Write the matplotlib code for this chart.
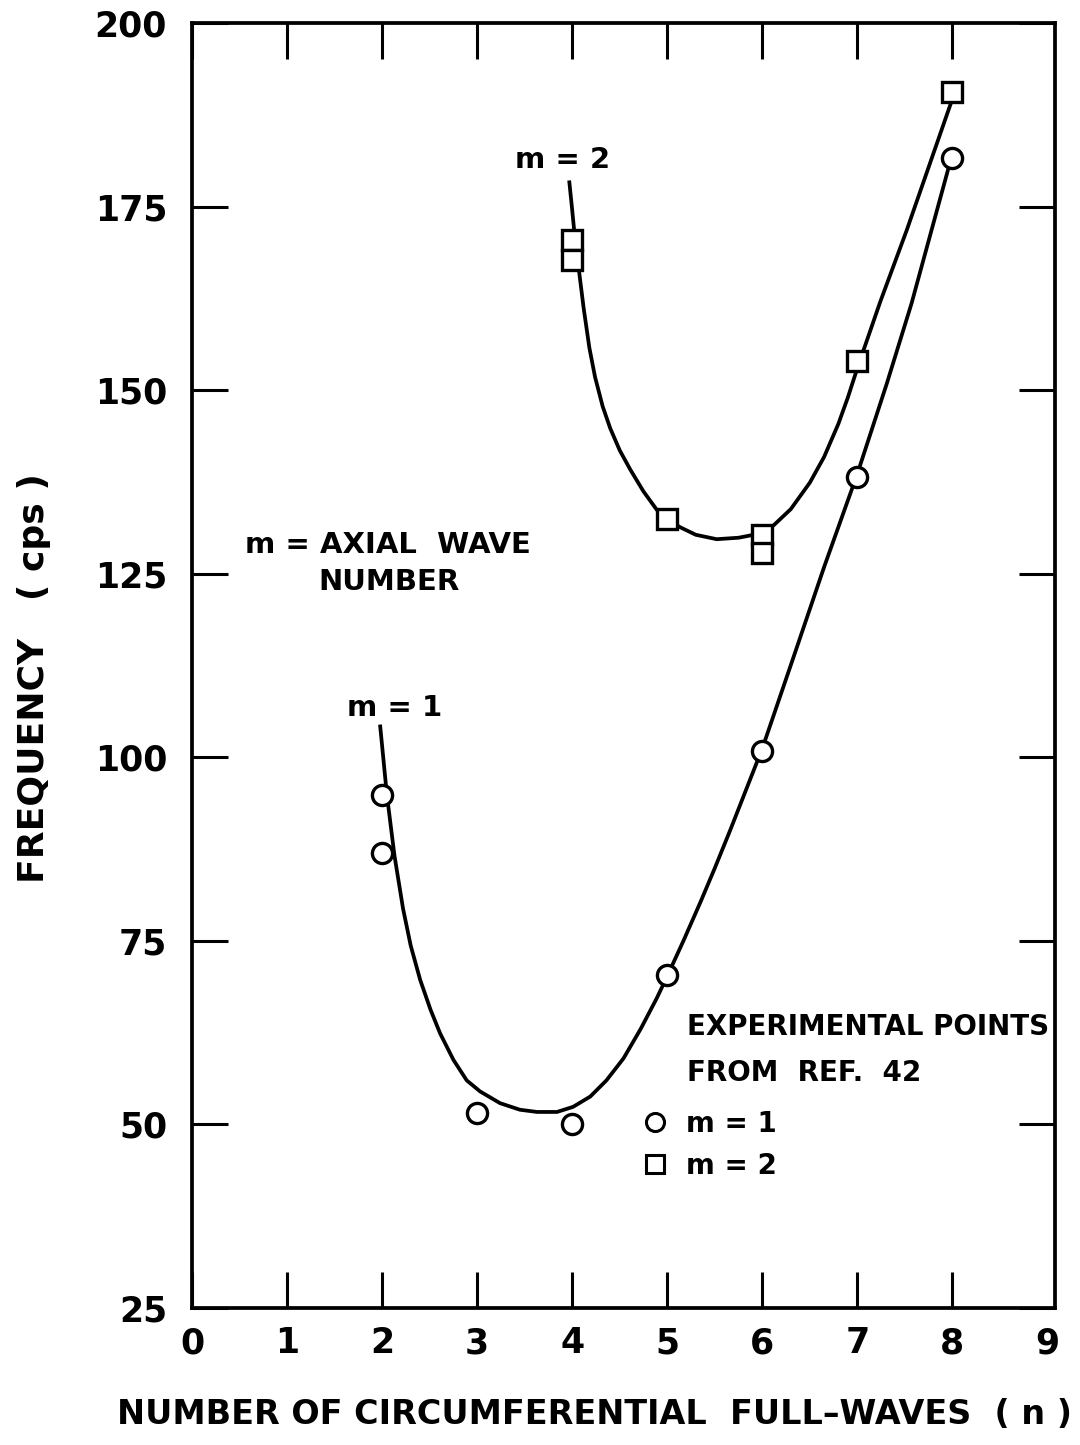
import matplotlib
matplotlib.use('Agg')
import matplotlib.pyplot as plt
from matplotlib.lines import Line2D

plt.rcParams['font.family'] = ['DejaVu Sans']
plt.rcParams['font.weight'] = 'bold'

# experimental points (n, frequency in cps)
n_m1 = [2, 2, 3, 4, 5, 6, 7, 8]
f_m1 = [94.9, 86.9, 51.5, 50.0, 70.4, 100.9, 138.2, 181.6]
n_m2 = [4, 4, 5, 6, 6, 7, 8]
f_m2 = [170.4, 167.7, 132.4, 130.3, 127.8, 154.0, 190.6]

# theory curves
curve_n_m1 = [1.98, 2.05, 2.13, 2.22, 2.30, 2.40, 2.51, 2.61, 2.75, 2.89,
              3.03, 3.24, 3.45, 3.63, 3.84, 4.01, 4.19, 4.36, 4.54, 4.72, 4.89,
              5.00, 5.17, 5.35, 5.50, 5.66, 5.83, 6.00, 6.33, 6.65, 7.00, 7.31, 7.57, 7.96]
curve_f_m1 = [104.2, 94.9, 86.6, 79.4, 74.4, 69.7, 65.6, 62.4, 58.8, 56.0,
              54.5, 52.9, 52.0, 51.7, 51.7, 52.4, 53.8, 56.0, 59.0, 63.0, 67.2,
              70.2, 75.0, 80.3, 84.9, 90.0, 95.6, 101.2, 113.7, 125.9, 138.6, 150.9, 161.8, 180.3]
curve_n_m2 = [3.97, 4.00, 4.03, 4.07, 4.12, 4.18, 4.24, 4.32, 4.40, 4.50, 4.61, 4.75,
              4.89, 5.00, 5.14, 5.30, 5.52, 5.75, 5.87, 6.00, 6.12, 6.30, 6.50, 6.65,
              6.80, 6.90, 7.00, 7.24, 7.52, 7.99]
curve_f_m2 = [178.3, 174.5, 170.5, 166.4, 161.2, 155.8, 151.8, 147.8, 144.8, 141.8, 139.2, 136.2,
              133.7, 132.4, 131.3, 130.3, 129.7, 129.9, 130.2, 130.6, 131.6, 133.8, 137.4, 140.9,
              145.4, 149.0, 153.0, 162.0, 171.8, 189.3]

x_ticks = list(range(10))
y_ticks = [25, 50, 75, 100, 125, 150, 175, 200]

fig = plt.figure(figsize=(10.8, 14.45), dpi=100)
ax = fig.add_axes([0.1778, 0.0948, 0.7991, 0.8893])

lw = 2.7
ax.plot(curve_n_m1, curve_f_m1, color='black', linewidth=lw, zorder=2,
        solid_joinstyle='round')
ax.plot(curve_n_m2, curve_f_m2, color='black', linewidth=lw, zorder=2,
        solid_joinstyle='round')
ax.plot(n_m1, f_m1, linestyle='none', marker='o', markersize=14.5,
        markerfacecolor='white', markeredgecolor='black', markeredgewidth=2.4, zorder=3)
ax.plot(n_m2, f_m2, linestyle='none', marker='s', markersize=14.5,
        markerfacecolor='white', markeredgecolor='black', markeredgewidth=2.4, zorder=3)

ax.set_xlim(0, 9.08)
ax.set_ylim(25, 200)
ax.set_xticks(x_ticks)
ax.set_yticks(y_ticks)
ax.tick_params(axis='both', which='major', direction='in', length=26, width=2.2,
               top=True, right=True, labelsize=25, colors='black')
ax.tick_params(axis='y', pad=18)
ax.tick_params(axis='x', pad=13)
for t in ax.xaxis.get_major_ticks()[-1:]:
    t.tick1line.set_visible(False)
    t.tick2line.set_visible(False)
for sp in ax.spines.values():
    sp.set_linewidth(2.7)

ax.set_xlabel('NUMBER OF CIRCUMFERENTIAL  FULL–WAVES  ( n )', fontsize=24,
              fontweight='bold')
ax.xaxis.set_label_coords(0.466, -0.070)
ax.set_ylabel('FREQUENCY   ( cps )', fontsize=26, fontweight='bold')
ax.yaxis.set_label_coords(-0.163, 0.49)

ax.text(3.4, 181.3, 'm = 2', fontsize=21, va='center', ha='left')
ax.text(1.63, 106.7, 'm = 1', fontsize=21, va='center', ha='left')
ax.text(0.56, 128.9, 'm = AXIAL  WAVE', fontsize=21, va='center', ha='left')
ax.text(1.33, 123.9, 'NUMBER', fontsize=21, va='center', ha='left')
ax.text(5.21, 63.3, 'EXPERIMENTAL POINTS', fontsize=20, va='center', ha='left')
ax.text(5.21, 57.0, 'FROM  REF.  42', fontsize=20, va='center', ha='left')

handles = [
    Line2D([], [], linestyle='none', marker='o', markersize=13, markerfacecolor='white',
           markeredgecolor='black', markeredgewidth=2.2),
    Line2D([], [], linestyle='none', marker='s', markersize=13, markerfacecolor='white',
           markeredgecolor='black', markeredgewidth=2.2),
]
ax.legend(handles, ['m = 1', 'm = 2'], loc='upper left', bbox_to_anchor=(4.76, 52.0),
          bbox_transform=ax.transData, frameon=False, fontsize=20, borderpad=0,
          borderaxespad=0, handlelength=0.75, handletextpad=0.75, labelspacing=0.5)

fig.savefig('out.png', dpi=100, facecolor='white')
